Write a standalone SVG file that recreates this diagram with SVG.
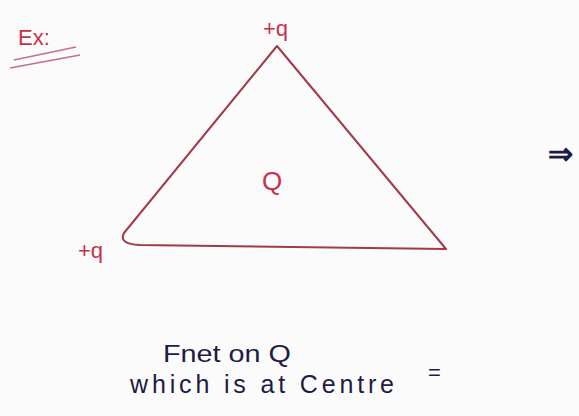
<svg xmlns="http://www.w3.org/2000/svg" width="579" height="416" viewBox="0 0 579 416">
<style>
.red{font-family:"Liberation Sans",Arial,sans-serif;fill:#c8304a}
.ink{font-family:"Liberation Sans",Arial,sans-serif;fill:#1c1c44}
.edge{fill:none;stroke:#a33a48;stroke-width:2;stroke-linecap:round;stroke-linejoin:round}
</style>
<rect width="579" height="416" fill="#fbfbfb"/>
<g id="heading">
<text class="red" x="18" y="45" font-size="22">Ex:</text>
<path d="M14 60 L76 47 M10 68 L80 55" stroke="#c07090" stroke-width="1.5" fill="none"/>
</g>
<g id="connectors">
<path class="edge" d="M277 46 L446 249 L140 245 Q118 244 124 233 Z"/>
</g>
<g id="charge-top"><text class="red" x="263" y="36" font-size="22">+q</text></g>
<g id="charge-left"><text class="red" x="78" y="258" font-size="22">+q</text></g>
<g id="charge-center"><text class="red" x="262" y="190" font-size="26">Q</text></g>
<g id="arrow"><text class="ink" x="548" y="164" font-size="30" font-weight="bold">⇒</text></g>
<g id="question">
<text class="ink" x="163" y="362" font-size="24" textLength="128" lengthAdjust="spacingAndGlyphs">Fnet on Q</text>
<text class="ink" x="130" y="393" font-size="25" textLength="264" lengthAdjust="spacing">which is at Centre</text>
<text class="ink" x="428" y="380" font-size="22">=</text>
</g>
</svg>
